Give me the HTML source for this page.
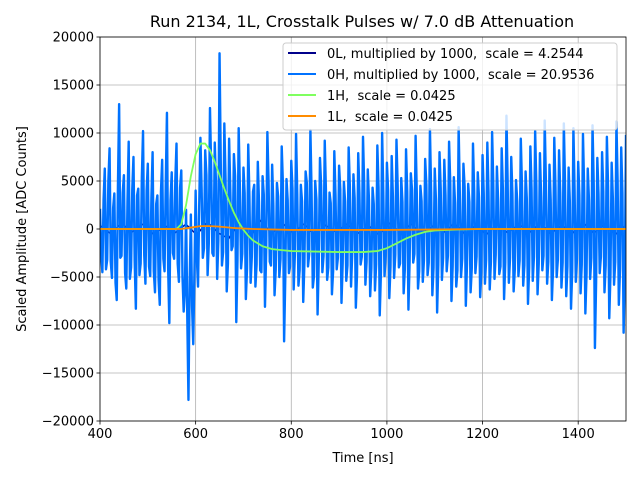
<!DOCTYPE html>
<html><head><meta charset="utf-8"><style>
body{margin:0;background:#fff}
svg{display:block;font-family:"DejaVu Sans","Liberation Sans",sans-serif}
text{white-space:pre}
</style></head><body>
<svg id="chart" width="640" height="480" viewBox="0 0 640 480"></svg>
<script>
// Data (amplitudes in thousands of ADC counts)
const xTicks = [400, 600, 800, 1000, 1200, 1400];
const yTicks = [-20000, -15000, -10000, -5000, 0, 5000, 10000, 15000, 20000];
const amp0H_k = [2.1,-4.5,6.3,-3.2,8.4,-5.1,3.7,-7.4,13.0,-2.8,5.6,-6.2,9.1,-4.0,7.5,-8.3,4.2,-3.6,10.2,-5.7,6.8,
-4.9,8.0,-6.6,3.5,-7.9,7.2,-4.4,12.1,-9.8,5.9,-3.1,8.9,-5.5,6.1,-8.6,2.0,-17.8,1.5,-12.0,4.0,-6.0,
9.5,-3.0,8.2,-4.8,12.6,-2.5,9.0,-5.2,18.3,-3.8,11.0,-6.5,9.4,-2.2,7.8,-9.7,10.5,-4.1,6.4,-7.3,
8.8,-5.6,3.9,-6.0,7.0,-4.3,5.5,-8.1,10.1,-3.4,6.7,-6.9,4.8,-5.0,8.6,-11.7,5.2,-4.6,7.1,-6.3,
9.9,-5.9,4.6,-7.6,6.0,-3.9,10.3,-6.1,5.0,-8.9,7.4,-4.5,9.2,-5.3,3.8,-6.8,8.1,-4.2,6.6,-7.7,
4.9,-5.4,8.5,-6.0,5.7,-8.2,7.9,-3.7,9.6,-5.8,6.2,-7.0,4.3,-6.4,8.7,-9.0,10.0,-4.9,6.9,-7.2,
7.6,-5.1,9.3,-4.0,5.3,-6.7,8.3,-8.4,5.8,-3.5,9.7,-6.2,4.5,-5.5,7.3,-4.8,10.4,-6.9,6.3,-8.7,
8.0,-5.3,7.2,-4.4,9.1,-7.5,5.4,-6.0,10.6,-5.0,6.8,-8.0,4.7,-6.6,8.9,-4.6,5.9,-7.1,7.7,-5.7,
9.0,-6.3,10.1,-5.2,6.5,-4.7,8.4,-7.3,11.8,-5.6,7.5,-6.5,5.1,-4.9,9.4,-5.9,6.0,-7.8,8.6,-5.4,
10.2,-6.8,7.9,-4.3,11.3,-5.7,6.7,-7.4,9.5,-5.0,8.2,-6.1,11.0,-7.0,6.4,-8.3,10.5,-5.5,7.0,-6.7,
9.9,-8.8,6.3,-5.2,10.8,-12.4,7.4,-4.6,8.0,-6.6,9.6,-9.3,6.9,-5.8,11.2,-7.9,8.5,-10.8,9.8];
// in-between samples (interleaved after each amp0H_k sample)
const amp0Hmid_k = [-2.6,3.1,-4.2,5.0,-3.4,2.2,-5.6,4.4,-3.0,3.8,-4.6,2.9,-5.2,4.1,-3.3,3.5,-4.8,5.4,-2.7,4.0,-3.9,
3.2,-4.4,2.6,-5.3,3.9,-3.1,4.7,-4.0,3.0,-2.5,5.1,-3.6,4.3,-4.9,-6.5,-9.0,-5.5,-8.0,-4.5,-3.0,2.5,
4.2,-2.0,5.6,-1.5,6.3,-2.8,4.8,-1.2,7.1,-2.4,5.3,-3.6,4.0,-1.8,5.5,-3.2,4.4,-2.6,3.7,-4.1,
3.3,-2.9,4.6,-3.7,2.8,-4.5,3.6,-2.4,4.9,-3.8,2.5,-4.2,3.4,-3.1,4.7,-5.0,3.0,-3.9,4.2,-2.7,
3.6,-4.3,2.9,-3.5,4.8,-2.6,3.7,-4.9,3.1,-3.3,4.5,-2.8,3.9,-4.0,2.7,-4.4,3.5,-3.0,4.1,-3.6,
2.9,-3.8,4.4,-2.5,3.2,-4.7,3.8,-2.9,4.6,-3.4,3.0,-4.1,2.6,-3.7,4.3,-4.5,3.6,-2.8,4.0,-3.9,
3.4,-2.7,4.5,-3.6,2.8,-4.2,3.9,-3.3,4.1,-2.6,3.7,-4.4,2.9,-3.2,4.6,-3.5,3.8,-4.0,3.1,-3.7,
4.2,-3.0,3.5,-2.8,4.7,-3.9,2.7,-4.3,3.6,-3.1,4.4,-3.6,2.8,-4.1,3.9,-2.9,3.3,-4.5,3.7,-3.2,
3.8,-3.4,4.6,-2.7,3.1,-3.9,4.2,-3.5,4.9,-3.0,3.6,-4.2,2.9,-3.3,4.4,-3.8,3.2,-4.0,4.1,-2.9,
4.5,-3.6,3.3,-2.8,4.8,-3.4,3.0,-4.1,4.3,-3.2,3.7,-3.5,4.6,-3.9,2.9,-4.4,4.0,-3.1,3.5,-3.7,
4.2,-4.6,3.1,-3.0,4.7,-5.5,3.6,-2.9,3.9,-3.8,4.4,-4.7,3.2,-3.4,4.9,-4.2,3.7,-5.0];
const amp0L_k = [0.4,-0.5,0.6,-0.3,0.5,-0.6,0.4,-0.4,0.5,-0.6,0.7,-0.4,-1.0,0.8,-0.8,0.9,-0.5,0.6,-0.4,0.5,-0.6,0.4,
-0.3,0.5,-0.5,0.4,-0.6,0.6,-0.4,0.5,-0.5,0.3,-0.4,0.6,-0.5,0.4,-0.6,0.5,-0.4,0.5,-0.4,0.6,-0.5,0.4,-0.5,0.7,-0.4,0.5,-0.6,0.4];
const t1H = [400,560,570,580,590,600,610,620,630,640,650,660,670,680,690,700,710,720,740,760,780,800,850,900,950,980,1000,1020,1040,1060,1080,1100,1150,1200,1500];
const v1H_k = [0,0,0.5,2.5,5.5,7.8,8.9,8.9,8.2,7.0,5.6,4.2,2.9,1.7,0.7,-0.1,-0.7,-1.2,-1.8,-2.1,-2.2,-2.3,-2.35,-2.4,-2.4,-2.3,-2.0,-1.5,-1.0,-0.6,-0.3,-0.15,-0.05,0,0];
const t1L = [400,570,590,610,630,650,680,720,800,1000,1200,1500];
const v1L_k = [0,0,0.15,0.3,0.3,0.25,0.1,0,-0.1,-0.1,0,0];

const L=100,R=626,T=37,B=421;
const X0=400,X1=1500,Y0=-20000,Y1=20000;
const sx=v=>L+(v-X0)/(X1-X0)*(R-L);
const sy=v=>B-(v-Y0)/(Y1-Y0)*(B-T);
const NS="http://www.w3.org/2000/svg";
const svg=document.getElementById('chart');
function mk(tag,attrs,parent){const e=document.createElementNS(NS,tag);for(const k in attrs)e.setAttribute(k,attrs[k]);(parent||svg).appendChild(e);return e;}

const grid=mk('g',{});


xTicks.forEach(t=>{mk('line',{x1:sx(t),x2:sx(t),y1:T,y2:B,stroke:'#b0b0b0','stroke-width':0.8},grid);});
yTicks.forEach(t=>{mk('line',{x1:L,x2:R,y1:sy(t),y2:sy(t),stroke:'#b0b0b0','stroke-width':0.8},grid);});

const clip=mk('clipPath',{id:'pc'});mk('rect',{x:L,y:T,width:R-L,height:B-T},clip);
const plot=mk('g',{'clip-path':'url(#pc)'});
function series(ts,vals,color,w,name){
  const pts=vals.map((v,i)=>sx(ts(i))+','+sy(v*1000)).join(' ');
  const p=mk('polyline',{points:pts,fill:'none',stroke:color,'stroke-width':w,'stroke-linejoin':'round'},plot);
  
  
}
const blue=[];
amp0H_k.forEach((v,i)=>{blue.push(v);if(i<amp0Hmid_k.length&&i<amp0H_k.length-1)blue.push(amp0Hmid_k[i]);});
series(i=>X0+i*(X1-X0)/(amp0L_k.length-1),amp0L_k,'#00008b',1.5,'series-0L');
series(i=>X0+i*(X1-X0)/(blue.length-1),blue,'#0072ff',2.4,'series-0H');
series(i=>t1H[i],v1H_k,'#7fff5f',1.8,'series-1H');
series(i=>t1L[i],v1L_k,'#ff8c00',1.8,'series-1L');

const frame=mk('rect',{x:L,y:T,width:R-L,height:B-T,fill:'none',stroke:'#000','stroke-width':0.8});


xTicks.forEach(t=>{
  mk('line',{x1:sx(t),x2:sx(t),y1:B,y2:B+3.5,stroke:'#000','stroke-width':0.8});
  const tx=mk('text',{x:sx(t),y:B+17,'text-anchor':'middle','font-size':13});
  tx.textContent=t;
  
  
});
yTicks.forEach(t=>{
  mk('line',{x1:L-3.5,x2:L,y1:sy(t),y2:sy(t),stroke:'#000','stroke-width':0.8});
  const tx=mk('text',{x:L-6,y:sy(t)+4.5,'text-anchor':'end','font-size':13});
  tx.textContent=t<0?'\u2212'+(-t):t;
  
  
});
</script>
<svg style="position:absolute;left:0;top:0" width="640" height="480">
<text x="362" y="27" text-anchor="middle" font-size="16" font-family="DejaVu Sans, Liberation Sans, sans-serif">Run 2134, 1L, Crosstalk Pulses w/ 7.0 dB Attenuation</text>
<text x="363" y="462" text-anchor="middle" font-size="13" font-family="DejaVu Sans, Liberation Sans, sans-serif">Time [ns]</text>
<text transform="translate(26,229) rotate(-90)" text-anchor="middle" font-size="13" font-family="DejaVu Sans, Liberation Sans, sans-serif">Scaled Amplitude [ADC Counts]</text>
<g font-size="13" font-family="DejaVu Sans, Liberation Sans, sans-serif">
<rect x="283" y="43" width="334" height="87" rx="3" fill="#fff" fill-opacity="0.8" stroke="#ccc"/>
<g><line x1="288" x2="316" y1="53" y2="53" stroke="#00008b" stroke-width="2"/><text x="327" y="58">0L, multiplied by 1000,  scale = 4.2544</text></g>
<g><line x1="288" x2="316" y1="74" y2="74" stroke="#0072ff" stroke-width="2"/><text x="327" y="79">0H, multiplied by 1000,  scale = 20.9536</text></g>
<g><line x1="288" x2="316" y1="95" y2="95" stroke="#7fff5f" stroke-width="2"/><text x="327" y="100">1H,  scale = 0.0425</text></g>
<g><line x1="288" x2="316" y1="116" y2="116" stroke="#ff8c00" stroke-width="2"/><text x="327" y="121">1L,  scale = 0.0425</text></g>
</g>
</svg>
</body></html>
